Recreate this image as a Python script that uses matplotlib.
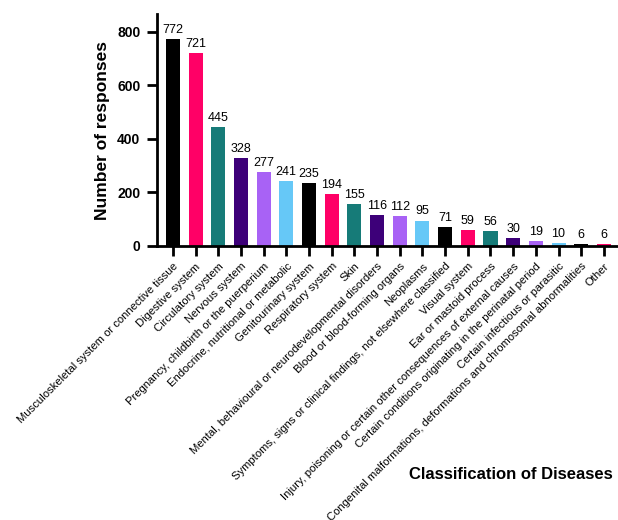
import matplotlib.pyplot as plt

plt.rcParams['font.family'] = ['Liberation Sans', 'DejaVu Sans']

# disease groups and number of responses for each
categories = [
    'Musculoskeletal system or connective tissue',
    'Digestive system',
    'Circulatory system',
    'Nervous system',
    'Pregnancy, childbirth or the puerperium',
    'Endocrine, nutritional or metabolic',
    'Genitourinary system',
    'Respiratory system',
    'Skin',
    'Mental, behavioural or neurodevelopmental disorders',
    'Blood or blood-forming organs',
    'Neoplasms',
    'Symptoms, signs or clinical findings, not elsewhere classified',
    'Visual system',
    'Ear or mastoid process',
    'Injury, poisoning or certain other consequences of external causes',
    'Certain conditions originating in the perinatal period',
    'Certain infectious or parasitic',
    'Congenital malformations, deformations and chromosomal abnormalities',
    'Other',
]
responses = [772, 721, 445, 328, 277, 241, 235, 194, 155, 116,
             112, 95, 71, 59, 56, 30, 19, 10, 6, 6]
yticks = [0, 200, 400, 600, 800]

palette = ['#000000', '#FF0066', '#167B78', '#3D0079', '#A862F5', '#66C8F7']
colors = [palette[i % len(palette)] for i in range(len(responses))]

fig = plt.figure(figsize=(6.18, 5.20), dpi=100)
ax = fig.add_axes([0.254, 0.527, 0.746, 0.446])

x = list(range(len(responses)))
ax.bar(x, responses, width=0.62, color=colors)

# value on top of every bar
for xi, v in zip(x, responses):
    ax.text(xi, v + 12, str(v), ha='center', va='bottom', fontsize=9)

ax.set_xlim(-0.7, 19.62)
ax.set_ylim(0, 867)
ax.set_yticks(yticks)
ax.set_yticklabels([str(t) for t in yticks], fontsize=10, fontweight='bold')
ax.set_xticks(x)
ax.set_xticklabels(categories, rotation=45, ha='right', rotation_mode='anchor',
                   fontsize=8.1)

for side in ['top', 'right']:
    ax.spines[side].set_visible(False)
for side in ['left', 'bottom']:
    ax.spines[side].set_linewidth(2)
ax.tick_params(axis='both', width=2, length=7, direction='out')
ax.tick_params(axis='y', pad=5)
ax.tick_params(axis='x', pad=4)

ax.set_ylabel('Number of responses', fontsize=12.5, fontweight='bold', labelpad=5)
fig.text(0.826, 0.087, 'Classification of Diseases', ha='center', va='center',
         fontsize=12, fontweight='bold')

fig.savefig('out.png', dpi=100)
